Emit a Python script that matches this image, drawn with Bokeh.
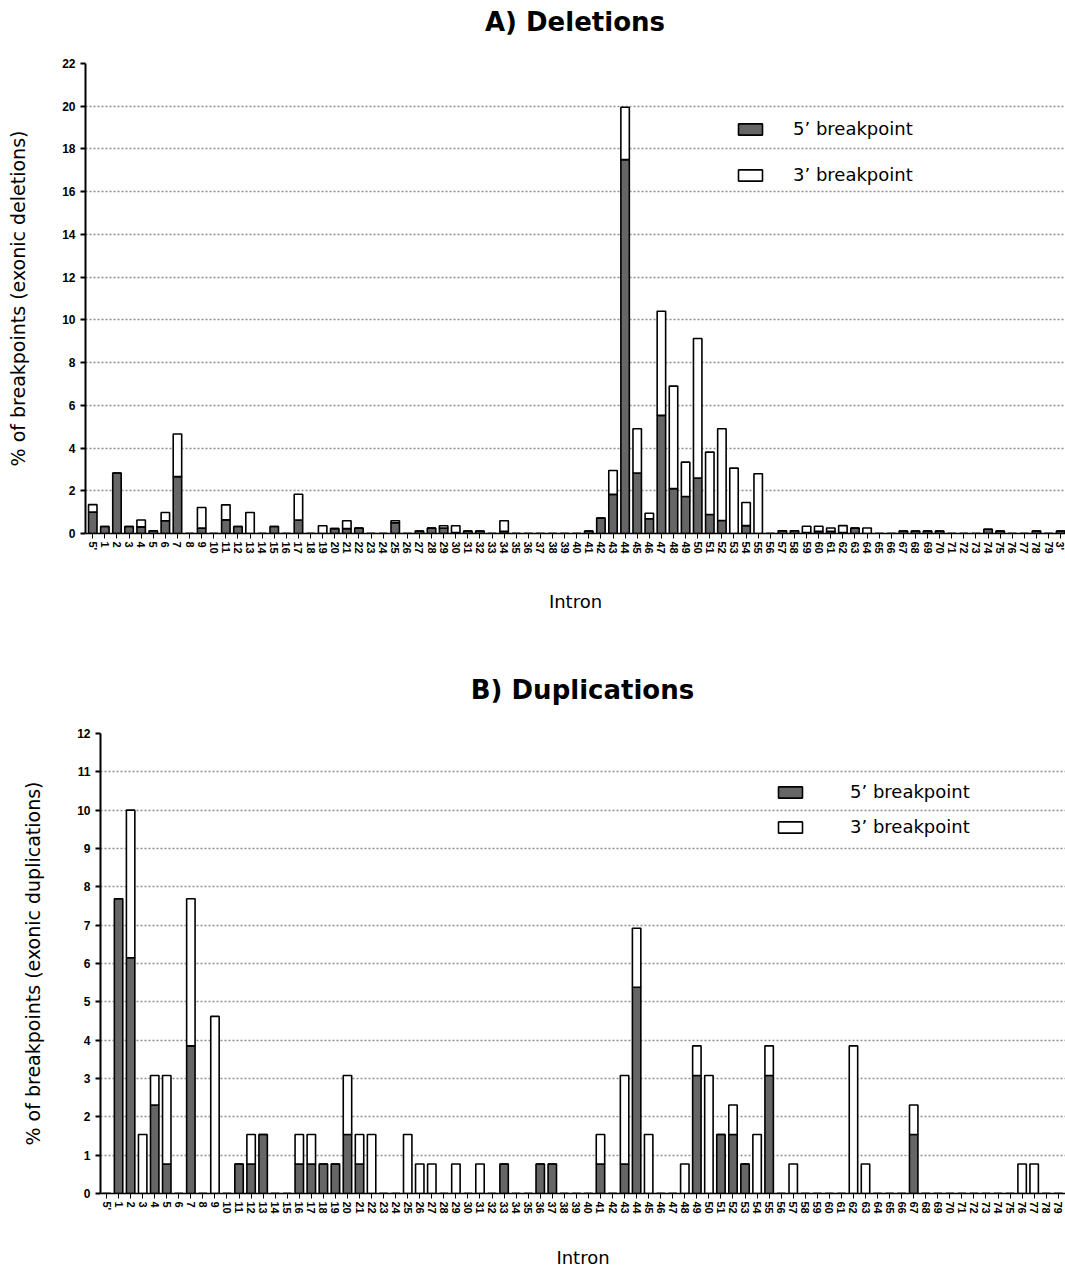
from bokeh.plotting import figure
from bokeh.models import FixedTicker, Range1d, ColumnDataSource, Spacer, Div
from bokeh.layouts import column, row
from bokeh.embed import file_html
from bokeh.resources import INLINE

# ---------------- data ----------------
categories = ["5'"] + [str(i) for i in range(1, 80)] + ["3'"]

# Deletions: % of breakpoints (5' part = dark, 3' part = white, stacked)
del_5p = [1.00, 0.33, 2.83, 0.33, 0.31, 0.13, 0.60, 2.66, 0.00, 0.25,
          0.00, 0.64, 0.33, 0.00, 0.00, 0.33, 0.00, 0.63, 0.00, 0.00,
          0.23, 0.23, 0.25, 0.00, 0.00, 0.50, 0.00, 0.12, 0.25, 0.25,
          0.05, 0.12, 0.12, 0.00, 0.10, 0.00, 0.00, 0.00, 0.00, 0.00,
          0.00, 0.12, 0.72, 1.83, 17.50, 2.83, 0.69, 5.53, 2.10, 1.73,
          2.60, 0.89, 0.61, 0.00, 0.37, 0.00, 0.00, 0.13, 0.13, 0.05,
          0.10, 0.10, 0.05, 0.25, 0.00, 0.00, 0.00, 0.12, 0.12, 0.12,
          0.12, 0.00, 0.00, 0.00, 0.20, 0.12, 0.00, 0.00, 0.12, 0.00,
          0.12]
del_3p = [0.35, 0.00, 0.00, 0.00, 0.32, 0.00, 0.38, 2.00, 0.00, 0.97,
          0.00, 0.70, 0.00, 0.98, 0.00, 0.00, 0.00, 1.21, 0.00, 0.36,
          0.00, 0.37, 0.00, 0.00, 0.00, 0.10, 0.00, 0.00, 0.00, 0.11,
          0.31, 0.00, 0.00, 0.00, 0.50, 0.00, 0.00, 0.00, 0.00, 0.00,
          0.00, 0.00, 0.00, 1.12, 2.45, 2.07, 0.26, 4.87, 4.80, 1.61,
          6.53, 2.92, 4.29, 3.06, 1.08, 2.80, 0.00, 0.00, 0.00, 0.29,
          0.24, 0.16, 0.32, 0.00, 0.26, 0.00, 0.00, 0.00, 0.00, 0.00,
          0.00, 0.00, 0.00, 0.00, 0.00, 0.00, 0.00, 0.00, 0.00, 0.00,
          0.00]

# Duplications
dup_5p = [0.00, 7.69, 6.15, 0.00, 2.31, 0.77, 0.00, 3.85, 0.00, 0.00,
          0.00, 0.77, 0.77, 1.54, 0.00, 0.00, 0.77, 0.77, 0.77, 0.77,
          1.54, 0.77, 0.00, 0.00, 0.00, 0.00, 0.00, 0.00, 0.00, 0.00,
          0.00, 0.00, 0.00, 0.77, 0.00, 0.00, 0.77, 0.77, 0.00, 0.00,
          0.00, 0.77, 0.00, 0.77, 5.38, 0.00, 0.00, 0.00, 0.00, 3.08,
          0.00, 1.54, 1.54, 0.77, 0.00, 3.08, 0.00, 0.00, 0.00, 0.00,
          0.00, 0.00, 0.00, 0.00, 0.00, 0.00, 0.00, 1.54, 0.00, 0.00,
          0.00, 0.00, 0.00, 0.00, 0.00, 0.00, 0.00, 0.00, 0.00, 0.00,
          0.00]
dup_3p = [0.00, 0.00, 3.85, 1.54, 0.77, 2.31, 0.00, 3.84, 0.00, 4.62,
          0.00, 0.00, 0.77, 0.00, 0.00, 0.00, 0.77, 0.77, 0.00, 0.00,
          1.54, 0.77, 1.54, 0.00, 0.00, 1.54, 0.77, 0.77, 0.00, 0.77,
          0.00, 0.77, 0.00, 0.00, 0.00, 0.00, 0.00, 0.00, 0.00, 0.00,
          0.00, 0.77, 0.00, 2.31, 1.54, 1.54, 0.00, 0.00, 0.77, 0.77,
          3.08, 0.00, 0.77, 0.00, 1.54, 0.77, 0.00, 0.77, 0.00, 0.00,
          0.00, 0.00, 3.85, 0.77, 0.00, 0.00, 0.00, 0.77, 0.00, 0.00,
          0.00, 0.00, 0.00, 0.00, 0.00, 0.00, 0.77, 0.77, 0.00, 0.00,
          0.00]

titles = ["A) Deletions", "B) Duplications"]
series_labels = ["5\u2019 breakpoint", "3\u2019 breakpoint"]
series_colors = ["#666666", "#ffffff"]


def make_title(text, width, height, line_height):
    return Div(text=text, width=width, height=height, margin=0,
               styles={"font-family": "DejaVu Sans", "font-size": "26px",
                       "font-weight": "bold", "text-align": "center",
                       "line-height": f"{line_height}px", "color": "black",
                       "white-space": "nowrap", "overflow": "visible"})


def make_panel(ylabel, five, three, ymax, ystep, xstart, xend,
               width, height, left, top, bottom,
               leg_loc, leg_spacing, leg_standoff, ylab_standoff, xlab_standoff):
    idx = list(range(len(categories)))
    src = ColumnDataSource(dict(x=idx, five=five, three=three))
    p = figure(width=width, height=height,
               x_range=Range1d(xstart, xend), y_range=Range1d(0, ymax),
               output_backend="svg", toolbar_location=None,
               min_border_left=left, min_border_right=0,
               min_border_top=top, min_border_bottom=bottom)
    p.title = None
    p.vbar_stack(["five", "three"], x="x", width=0.7, source=src,
                 fill_color=series_colors, line_color="black", line_width=1.6,
                 legend_label=series_labels)

    p.outline_line_color = None
    p.xgrid.visible = False
    p.ygrid.grid_line_color = "#8f8f8f"
    p.ygrid.grid_line_dash = "2 2"
    p.ygrid.grid_line_width = 1.5

    p.yaxis.ticker = FixedTicker(ticks=list(range(0, ymax + 1, ystep)))
    p.yaxis.axis_label = ylabel
    p.yaxis.axis_label_text_font = "DejaVu Sans"
    p.yaxis.axis_label_text_font_size = "19px"
    p.yaxis.axis_label_text_font_style = "normal"
    p.yaxis.axis_label_text_color = "black"
    p.yaxis.axis_label_standoff = ylab_standoff
    p.yaxis.major_label_text_font = "Liberation Sans"
    p.yaxis.major_label_text_font_style = "bold"
    p.yaxis.major_label_text_font_size = "12px"
    p.yaxis.major_label_text_color = "black"
    p.yaxis.axis_line_width = 2
    p.yaxis.major_tick_in = 0
    p.yaxis.major_tick_out = 5
    p.yaxis.major_tick_line_width = 2
    p.yaxis.minor_tick_line_color = None

    p.xaxis.ticker = FixedTicker(ticks=idx)
    p.xaxis.major_label_overrides = {i: c for i, c in zip(idx, categories)}
    p.xaxis.major_label_orientation = "vertical"
    p.xaxis.major_label_text_font = "Liberation Sans"
    p.xaxis.major_label_text_font_style = "bold"
    p.xaxis.major_label_text_font_size = "11px"
    p.xaxis.major_label_text_color = "black"
    p.xaxis.major_label_standoff = 3
    p.xaxis.axis_label = "Intron"
    p.xaxis.axis_label_text_font = "DejaVu Sans"
    p.xaxis.axis_label_text_font_size = "18px"
    p.xaxis.axis_label_text_font_style = "normal"
    p.xaxis.axis_label_text_color = "black"
    p.xaxis.axis_label_standoff = xlab_standoff
    p.xaxis.axis_line_width = 1.5
    p.xaxis.major_tick_in = 0
    p.xaxis.major_tick_out = 5
    p.xaxis.minor_tick_line_color = None

    lg = p.legend[0]
    lg.location = leg_loc
    lg.border_line_color = None
    lg.background_fill_alpha = 0
    lg.label_text_font = "DejaVu Sans"
    lg.label_text_font_size = "18px"
    lg.label_text_color = "black"
    lg.glyph_width = 30
    lg.glyph_height = 14
    lg.spacing = leg_spacing
    lg.label_standoff = leg_standoff
    lg.padding = 0
    lg.margin = 0
    return p


p1 = make_panel("% of breakpoints (exonic deletions)",
                del_5p, del_3p, 22, 2, -0.6, 80.4,
                width=1065, height=604, left=85, top=19, bottom=115,
                leg_loc=(650, 348), leg_spacing=25, leg_standoff=28,
                ylab_standoff=30, xlab_standoff=34)
p2 = make_panel("% of breakpoints (exonic duplications)",
                dup_5p, dup_3p, 12, 1, -0.5, 79.6,
                width=1050, height=546, left=85, top=9, bottom=72,
                leg_loc=(675, 356), leg_spacing=14, leg_standoff=45,
                ylab_standoff=30, xlab_standoff=30)

t1 = row(Spacer(width=85, height=44, margin=0), make_title(titles[0], 980, 44, 44), spacing=0)
t2 = row(Spacer(width=100, height=76, margin=0), make_title(titles[1], 965, 76, 84), spacing=0)

layout = column(t1, p1, t2, row(Spacer(width=15, height=546, margin=0), p2, spacing=0), spacing=0)
open("out.html", "w").write(file_html(layout, INLINE))
